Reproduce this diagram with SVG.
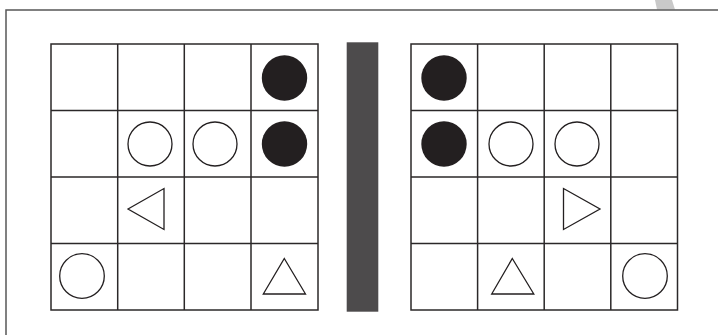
<svg xmlns="http://www.w3.org/2000/svg" width="718" height="335" viewBox="0 0 718 335">
<style>
.grid{fill:none;stroke:#2b2829;stroke-width:1.5}
.w{fill:#fff;stroke:#231f20;stroke-width:1.3}
.b{fill:#231f20;stroke:none}
</style>
<rect x="0" y="0" width="718" height="335" fill="#fff"/>
<polygon points="655,0 672,0 675,9.5 657,9.5" fill="#c9c9c9"/>
<rect x="6" y="10" width="720" height="340" fill="none" stroke="#575757" stroke-width="1.5"/>
<g id="left-board">
  <rect class="grid" x="51" y="44" width="267" height="266"/>
  <path class="grid" d="M117.7 44V310M184.3 44V310M251 44V310M51 110.5H318M51 177H318M51 243.5H318"/>
  <circle class="b" cx="284.5" cy="78" r="22.7"/>
  <circle class="w" cx="150" cy="144" r="22"/>
  <circle class="w" cx="215" cy="144" r="22"/>
  <circle class="b" cx="284.5" cy="144" r="22.7"/>
  <polygon class="w" points="128,209 164,188.5 164,229.5"/>
  <circle class="w" cx="82" cy="276" r="22.3"/>
  <polygon class="w" points="284.3,258.5 305.5,294 263.3,294"/>
</g>
<g id="divider">
  <rect x="346.7" y="42.3" width="31.6" height="269.4" fill="#4d4b4c"/>
</g>
<g id="right-board">
  <rect class="grid" x="411" y="44" width="266.5" height="266"/>
  <path class="grid" d="M477.6 44V310M544.2 44V310M610.8 44V310M411 110.5H677.5M411 177H677.5M411 243.5H677.5"/>
  <circle class="b" cx="444" cy="78" r="22.7"/>
  <circle class="b" cx="444" cy="144" r="22.7"/>
  <circle class="w" cx="511" cy="144" r="22"/>
  <circle class="w" cx="577" cy="144" r="22"/>
  <polygon class="w" points="563.5,188.5 600,209 563.5,229.5"/>
  <polygon class="w" points="512.3,258.5 533.8,294 491.7,294"/>
  <circle class="w" cx="645" cy="276" r="22.3"/>
</g>
</svg>
